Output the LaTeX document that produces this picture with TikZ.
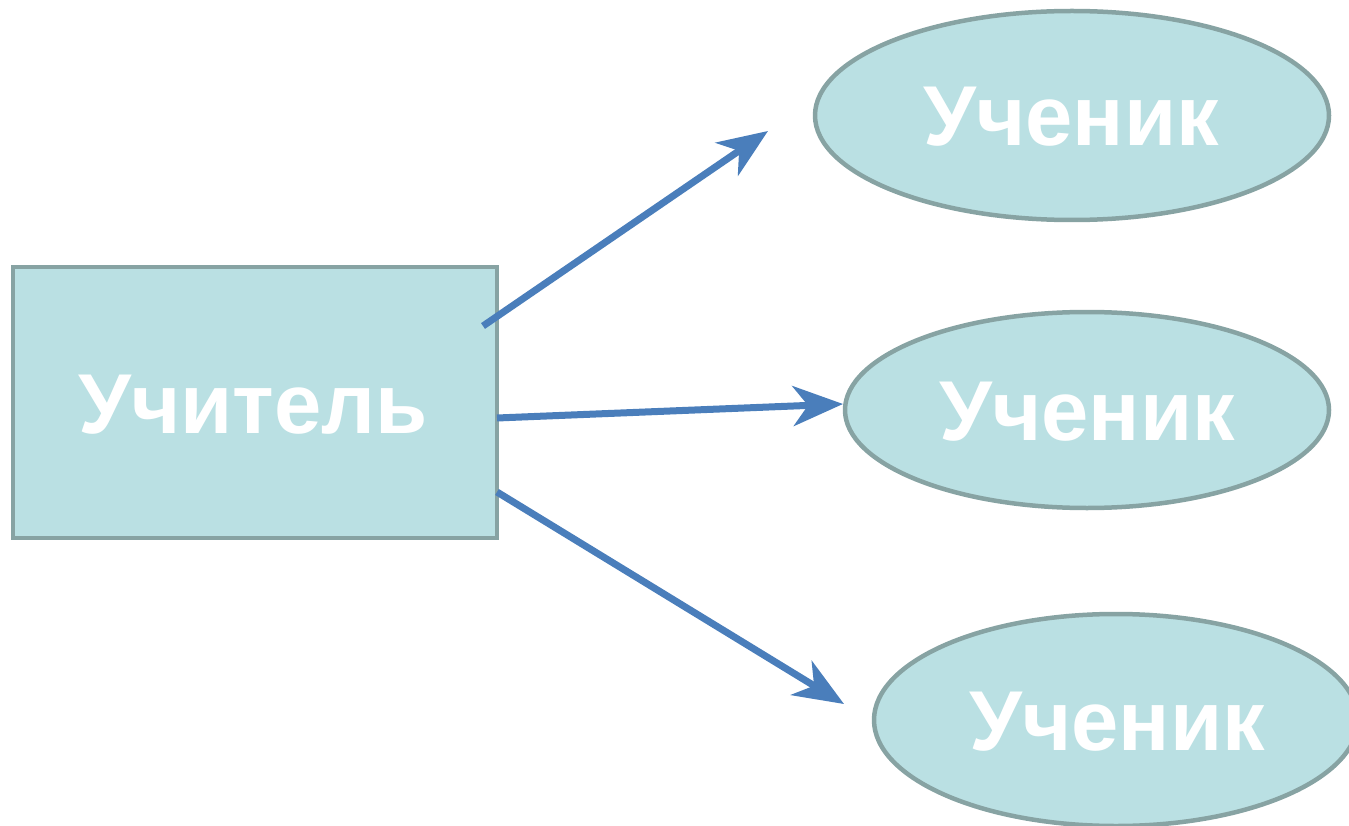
\documentclass[tikz,border=0pt]{standalone}
\usepackage{fontspec}
\setmainfont{Liberation Sans}
\usetikzlibrary{shapes.geometric,arrows.meta}
\definecolor{boxfill}{HTML}{BAE0E3}
\definecolor{boxline}{HTML}{87A3A3}
\definecolor{arrowc}{HTML}{4A7EBB}
\tikzset{
  shapebase/.style={fill=boxfill, draw=boxline, line width=4.5pt, text=white, inner sep=0pt},
  teacherbox/.style={shapebase, rectangle, minimum width=484pt, minimum height=271pt},
  pupil/.style={shapebase, ellipse},
  lbl/.style={text=white, font=\fontsize{85}{85}\selectfont\bfseries},
  link/.style={draw=arrowc, line width=7pt, -{Stealth[length=50pt,width=40pt,inset=15pt]}}
}
\begin{document}
\begin{tikzpicture}[x=1pt,y=-1pt]
\useasboundingbox (0,0) rectangle (1349,826);
\begin{scope}
\clip (0,0) rectangle (1349,826);
\node[teacherbox] (t) at (255,402.5) {};
\node[pupil, minimum width=514pt, minimum height=209pt] (p1) at (1072,115.5) {};
\node[pupil, minimum width=484pt, minimum height=196pt] (p2) at (1087,410) {};
\node[pupil, minimum width=484pt, minimum height=212pt] (p3) at (1116,720) {};
\end{scope}
\node[lbl] (tl) at (253,405) {Учитель};
\node[lbl] (l1) at (1071,117) {Ученик};
\node[lbl] (l2) at (1087,412) {Ученик};
\node[lbl] (l3) at (1117,722) {Ученик};
\coordinate (s1) at (483,326);
\coordinate (e1) at (768,131);
\coordinate (s2) at (497,418);
\coordinate (e2) at (843,404);
\coordinate (s3) at (497,492);
\coordinate (e3) at (844,704);
\draw[link] (s1) -- (e1);
\draw[link] (s2) -- (e2);
\draw[link] (s3) -- (e3);
\end{tikzpicture}
\end{document}
